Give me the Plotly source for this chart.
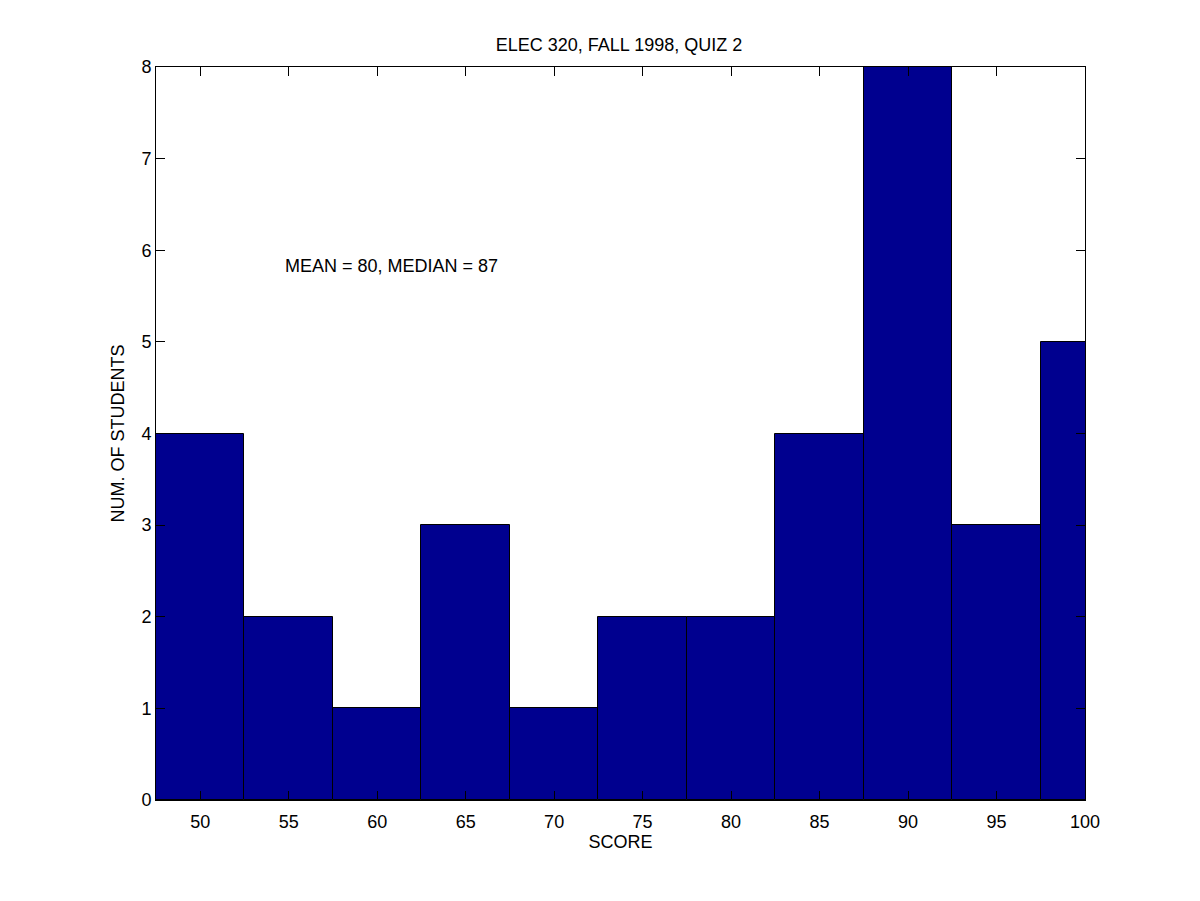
import plotly.graph_objects as go

scores = [50, 55, 60, 65, 70, 75, 80, 85, 90, 95, 100]
counts = [4, 2, 1, 3, 1, 2, 2, 4, 8, 3, 5]
x_ticks = [50, 55, 60, 65, 70, 75, 80, 85, 90, 95, 100]
y_ticks = [0, 1, 2, 3, 4, 5, 6, 7, 8]

font = dict(family="Liberation Sans, Arial, sans-serif", size=18, color="black")

fig = go.Figure()
fig.add_trace(go.Bar(
    x=scores, y=counts, width=5,
    marker=dict(color="#00008F", line=dict(color="#000000", width=1)),
    showlegend=False,
))

fig.add_annotation(x=54.7, y=5.83, text="MEAN = 80, MEDIAN = 87", showarrow=False,
                   xanchor="left", yanchor="middle", font=font)

axis_common = dict(showgrid=False, zeroline=False, showline=True, linecolor="black",
                   linewidth=1, mirror="ticks", ticks="inside", ticklen=9,
                   tickcolor="black", tickfont=font)

fig.update_layout(
    width=1200, height=901,
    paper_bgcolor="white", plot_bgcolor="white",
    margin=dict(l=148, r=123, t=59, b=109),
    title=dict(text="ELEC 320, FALL 1998, QUIZ 2", x=611 / 1200, xanchor="center",
               y=1 - 37 / 901, yanchor="middle", font=font),
    xaxis=dict(range=[47.5, 100], tickvals=x_ticks, ticktext=[str(v) for v in x_ticks],
               ticklabelstandoff=5,
               title=dict(text="SCORE", font=font, standoff=1), **axis_common),
    yaxis=dict(range=[0, 8], tickvals=y_ticks, ticktext=[str(v) for v in y_ticks],
               title=dict(text="NUM. OF STUDENTS", font=font, standoff=12), **axis_common),
    bargap=0,
)

fig.write_html("out.html")
